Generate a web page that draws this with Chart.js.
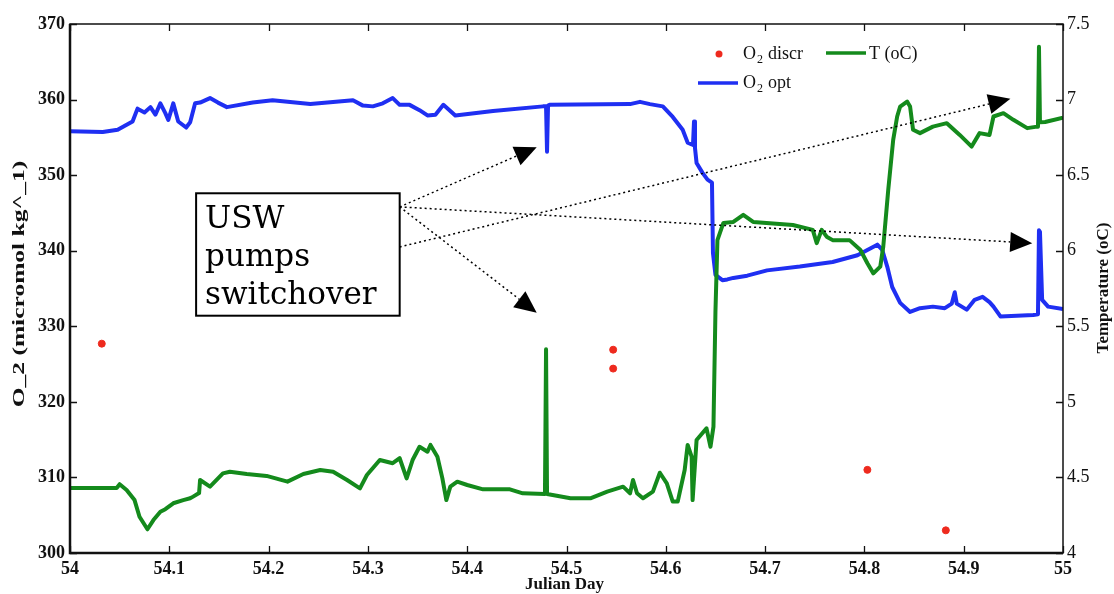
<!DOCTYPE html>
<html>
<head>
<meta charset="utf-8">
<script src="https://cdn.jsdelivr.net/npm/chart.js@4/dist/chart.umd.min.js"></script>
<style>
  html, body { margin: 0; padding: 0; background: #fff; }
  #chart { display: block; }
</style>
</head>
<body>
<canvas id="chart" width="1114" height="594"></canvas>
<script>
// Julian day / O2 optode (micromol kg-1)
const optDay = [54.000, 54.033, 54.048, 54.063, 54.068, 54.075, 54.081, 54.086, 54.091, 54.096, 54.099, 54.104,
  54.109, 54.117, 54.121, 54.126, 54.131, 54.141, 54.149, 54.158, 54.184, 54.204, 54.242, 54.285, 54.295, 54.305,
  54.315, 54.325, 54.332, 54.342, 54.352, 54.360, 54.368, 54.376, 54.383, 54.388, 54.426, 54.4763, 54.4794, 54.4804,
  54.4814, 54.483, 54.564, 54.574, 54.584, 54.597, 54.607, 54.617, 54.622, 54.6274, 54.6284, 54.6294, 54.631, 54.637,
  54.642, 54.6465, 54.6475, 54.650, 54.657, 54.662, 54.668, 54.682, 54.702, 54.735, 54.768, 54.793, 54.813, 54.818,
  54.823, 54.828, 54.836, 54.846, 54.856, 54.869, 54.881, 54.888, 54.891, 54.893, 54.903, 54.911, 54.919, 54.926,
  54.930, 54.937, 54.970, 54.9748, 54.9758, 54.9768, 54.979, 54.985, 55.000];
const optO2 = [355.8, 355.7, 356.0, 357.1, 358.8, 358.3, 359.0, 358.0, 359.5, 358.2, 357.3, 359.5,
  357.1, 356.3, 357.0, 359.5, 359.6, 360.2, 359.6, 359.0, 359.6, 359.9, 359.4, 359.9, 359.2, 359.1,
  359.5, 360.2, 359.3, 359.3, 358.6, 357.9, 358.0, 359.3, 358.5, 357.9, 358.5, 359.1, 359.1, 353.1,
  359.2, 359.3, 359.4, 359.7, 359.4, 359.1, 357.7, 356.0, 354.3, 354.0, 357.1, 353.6, 351.6, 350.3,
  349.4, 349.0, 339.7, 336.8, 336.1, 336.2, 336.4, 336.7, 337.4, 337.9, 338.5, 339.4, 340.8, 340.1,
  337.9, 335.2, 333.1, 331.9, 332.4, 332.6, 332.4, 333.0, 334.5, 333.0, 332.2, 333.5, 333.9, 333.2,
  332.6, 331.3, 331.5, 331.6, 342.7, 342.5, 333.5, 332.6, 332.3];

// Julian day / temperature (oC)
const tempDay = [54.000, 54.047, 54.050, 54.057, 54.065, 54.070, 54.078, 54.084, 54.091, 54.096, 54.104, 54.114,
  54.121, 54.124, 54.130, 54.131, 54.141, 54.154, 54.161, 54.178, 54.198, 54.219, 54.235, 54.252, 54.265,
  54.279, 54.292, 54.299, 54.312, 54.325, 54.332, 54.339, 54.345, 54.352, 54.360, 54.363, 54.370, 54.375,
  54.379, 54.383, 54.390, 54.400, 54.416, 54.443, 54.456, 54.4783, 54.4794, 54.4804, 54.504, 54.524, 54.541,
  54.557, 54.564, 54.567, 54.571, 54.577, 54.587, 54.594, 54.601, 54.607, 54.612, 54.619, 54.622, 54.626,
  54.627, 54.631, 54.641, 54.645, 54.648, 54.650, 54.652, 54.658, 54.668, 54.678, 54.688, 54.708, 54.728,
  54.748, 54.752, 54.757, 54.762, 54.768, 54.785, 54.796, 54.803, 54.809, 54.816, 54.819, 54.824, 54.829,
  54.833, 54.836, 54.843, 54.846, 54.849, 54.856, 54.869, 54.883, 54.896, 54.908, 54.916, 54.926, 54.930,
  54.940, 54.950, 54.964, 54.9738, 54.9748, 54.9758, 54.9768, 54.982, 55.000];
const tempC = [4.43, 4.43, 4.455, 4.417, 4.35, 4.24, 4.157, 4.218, 4.273, 4.29, 4.329, 4.35,
  4.362, 4.373, 4.397, 4.483, 4.439, 4.527, 4.538, 4.523, 4.51, 4.472, 4.523, 4.549, 4.538,
  4.483, 4.428, 4.516, 4.615, 4.594, 4.627, 4.494, 4.615, 4.703, 4.67, 4.715, 4.637, 4.494,
  4.35, 4.439, 4.472, 4.45, 4.421, 4.421, 4.395, 4.39, 5.348, 4.39, 4.362, 4.362, 4.406,
  4.439, 4.395, 4.483, 4.395, 4.362, 4.406, 4.531, 4.461, 4.34, 4.34, 4.549, 4.715, 4.637,
  4.35, 4.748, 4.825, 4.703, 4.836, 5.6, 6.07, 6.184, 6.19, 6.237, 6.19, 6.18, 6.17,
  6.138, 6.05, 6.138, 6.093, 6.07, 6.07, 6.005, 5.917, 5.85, 5.895, 6.027, 6.402, 6.733,
  6.888, 6.954, 6.987, 6.954, 6.8, 6.778, 6.821, 6.844, 6.766, 6.689, 6.778, 6.766, 6.888,
  6.91, 6.866, 6.811, 6.821, 6.82, 7.35, 6.85, 6.852, 6.88];

// discrete O2 samples
const discrDay = [54.032, 54.547, 54.547, 54.803, 54.882];
const discrO2 = [327.7, 326.9, 324.4, 311.0, 303.0];

// annotation arrows (data coords): start on the box edge -> tip
const arrowFrom = [[54.332, 345.8], [54.332, 345.8], [54.332, 345.8], [54.332, 340.5]];
const arrowTo = [[54.470, 353.7], [54.470, 331.8], [54.969, 341.0], [54.947, 360.1]];
const noteBox = [54.127, 347.6, 54.332, 331.4];
const noteLines = ['USW', 'pumps', 'switchover'];

const pairs = (xs, ys) => xs.map((x, i) => ({ x, y: ys[i] }));

const BLUE = '#1f2ff2';
const GREEN = '#148a1c';
const RED = '#ee2a1e';
const INK = '#111';

const inwardTicks = {
  id: 'inwardTicks',
  afterDraw(chart) {
    const { ctx, chartArea: a, scales } = chart;
    ctx.save();
    ctx.strokeStyle = INK;
    ctx.lineWidth = 1.3;
    ctx.beginPath();
    scales.x.ticks.forEach((t) => {
      const px = Math.round(scales.x.getPixelForValue(t.value)) + 0.5;
      ctx.moveTo(px, a.bottom); ctx.lineTo(px, a.bottom - 7);
      ctx.moveTo(px, a.top); ctx.lineTo(px, a.top + 7);
    });
    scales.y.ticks.forEach((t) => {
      const py = Math.round(scales.y.getPixelForValue(t.value)) + 0.5;
      ctx.moveTo(a.left, py); ctx.lineTo(a.left + 7, py);
    });
    scales.y1.ticks.forEach((t) => {
      const py = Math.round(scales.y1.getPixelForValue(t.value)) + 0.5;
      ctx.moveTo(a.right, py); ctx.lineTo(a.right - 7, py);
    });
    ctx.stroke();
    ctx.lineWidth = 1.5;
    ctx.strokeRect(a.left, a.top, a.right - a.left, a.bottom - a.top);
    ctx.lineWidth = 2.5;
    ctx.beginPath(); ctx.moveTo(a.left, a.top); ctx.lineTo(a.left, a.bottom); ctx.lineTo(a.right, a.bottom); ctx.stroke();
    ctx.restore();
  },
};

const axisTitles = {
  id: 'axisTitles',
  afterDraw(chart) {
    const { ctx, chartArea: a } = chart;
    ctx.save();
    ctx.fillStyle = INK;
    ctx.textAlign = 'center';
    ctx.textBaseline = 'middle';
    ctx.font = 'bold 17px "Liberation Serif"';
    ctx.fillText('Julian Day', (a.left + a.right) / 2 - 2, 585);

    ctx.save();
    ctx.translate(20, 284);
    ctx.rotate(-Math.PI / 2);
    ctx.scale(1.5, 1);
    ctx.fillText('O_2 (micromol kg^_1)', 0, 0);
    ctx.restore();

    ctx.save();
    ctx.translate(1104, 288);
    ctx.rotate(-Math.PI / 2);
    ctx.fillText('Temperature (oC)', 0, 0);
    ctx.restore();
    ctx.restore();
  },
};

const legendBox = {
  id: 'legendBox',
  afterDraw(chart) {
    const { ctx } = chart;
    const sub = (txt, x, y) => {
      ctx.font = '18px "Liberation Serif"';
      ctx.fillText('O', x, y);
      const w = ctx.measureText('O').width;
      ctx.font = '12px "Liberation Serif"';
      ctx.fillText('2', x + w + 1, y + 4);
      ctx.font = '18px "Liberation Serif"';
      ctx.fillText(txt, x + w + 12, y);
    };
    ctx.save();
    ctx.textBaseline = 'alphabetic';
    ctx.textAlign = 'left';
    ctx.fillStyle = RED;
    ctx.beginPath();
    ctx.arc(719, 54, 3.5, 0, Math.PI * 2);
    ctx.fill();
    ctx.fillStyle = INK;
    sub('discr', 743, 59);
    ctx.lineWidth = 3.5;
    ctx.strokeStyle = GREEN;
    ctx.beginPath(); ctx.moveTo(826, 53); ctx.lineTo(866, 53); ctx.stroke();
    ctx.font = '18px "Liberation Serif"';
    ctx.fillText('T (oC)', 869, 59);
    ctx.strokeStyle = BLUE;
    ctx.beginPath(); ctx.moveTo(698, 83); ctx.lineTo(738, 83); ctx.stroke();
    sub('opt', 743, 88);
    ctx.restore();
  },
};

const switchNote = {
  id: 'switchNote',
  afterDatasetsDraw(chart) {
    const { ctx, scales: { x, y } } = chart;
    ctx.save();
    // dotted arrows
    arrowFrom.forEach((from, i) => {
      const x0 = x.getPixelForValue(from[0]), y0 = y.getPixelForValue(from[1]);
      const x1 = x.getPixelForValue(arrowTo[i][0]), y1 = y.getPixelForValue(arrowTo[i][1]);
      const ang = Math.atan2(y1 - y0, x1 - x0);
      const len = 22, half = 10;
      const bx = x1 - len * Math.cos(ang), by = y1 - len * Math.sin(ang);
      ctx.setLineDash([2, 3]);
      ctx.lineWidth = 1.5;
      ctx.strokeStyle = '#000';
      ctx.beginPath(); ctx.moveTo(x0, y0); ctx.lineTo(bx, by); ctx.stroke();
      ctx.setLineDash([]);
      ctx.fillStyle = '#000';
      ctx.beginPath();
      ctx.moveTo(x1, y1);
      ctx.lineTo(bx + half * Math.sin(ang), by - half * Math.cos(ang));
      ctx.lineTo(bx - half * Math.sin(ang), by + half * Math.cos(ang));
      ctx.closePath();
      ctx.fill();
    });
    // text box
    const bl = x.getPixelForValue(noteBox[0]), bt = y.getPixelForValue(noteBox[1]);
    const br = x.getPixelForValue(noteBox[2]), bb = y.getPixelForValue(noteBox[3]);
    ctx.fillStyle = '#fff';
    ctx.fillRect(bl, bt, br - bl, bb - bt);
    ctx.lineWidth = 2;
    ctx.strokeStyle = '#000';
    ctx.strokeRect(bl, bt, br - bl, bb - bt);
    ctx.fillStyle = '#000';
    ctx.font = '31px "DejaVu Serif"';
    ctx.textAlign = 'left';
    ctx.textBaseline = 'alphabetic';
    noteLines.forEach((line, i) => ctx.fillText(line, bl + 9, bt + 35 + i * 38));
    ctx.restore();
  },
};

const tickFont = { family: 'Liberation Serif', size: 18, weight: 'bold' };

new Chart(document.getElementById('chart'), {
  type: 'line',
  data: {
    datasets: [
      {
        label: 'O2 discr',
        type: 'scatter',
        data: pairs(discrDay, discrO2),
        yAxisID: 'y',
        backgroundColor: RED,
        borderColor: RED,
        pointRadius: 3.5,
        order: 0,
      },
      {
        label: 'T (oC)',
        data: pairs(tempDay, tempC),
        yAxisID: 'y1',
        borderColor: GREEN,
        borderWidth: 4,
        pointRadius: 0,
        tension: 0,
        borderJoinStyle: 'round',
        order: 1,
      },
      {
        label: 'O2 opt',
        data: pairs(optDay, optO2),
        yAxisID: 'y',
        borderColor: BLUE,
        borderWidth: 4,
        pointRadius: 0,
        tension: 0,
        borderJoinStyle: 'round',
        order: 2,
      },
    ],
  },
  options: {
    responsive: false,
    animation: false,
    devicePixelRatio: 1,
    layout: { padding: { top: 24, left: 0, right: 0, bottom: 0 } },
    plugins: { legend: { display: false }, tooltip: { enabled: false } },
    scales: {
      x: {
        type: 'linear',
        min: 54,
        max: 55,
        afterFit: (s) => { s.height = 41; },
        grid: { display: false, drawTicks: false },
        border: { display: false },
        ticks: {
          stepSize: 0.1,
          autoSkip: false,
          maxRotation: 0,
          padding: 6,
          color: INK,
          font: tickFont,
          callback: (v) => String(Math.round(v * 10) / 10),
        },
      },
      y: {
        position: 'left',
        min: 300,
        max: 370,
        afterFit: (s) => { s.width = 70; },
        grid: { display: false, drawTicks: false },
        border: { display: false },
        ticks: { stepSize: 10, padding: 5, color: INK, font: tickFont },
      },
      y1: {
        position: 'right',
        min: 4,
        max: 7.5,
        afterFit: (s) => { s.width = 51; },
        grid: { display: false, drawTicks: false },
        border: { display: false },
        ticks: {
          stepSize: 0.5,
          padding: 4,
          color: INK,
          font: { family: 'Liberation Serif', size: 18 },
          callback: (v) => String(Math.round(v * 10) / 10),
        },
      },
    },
  },
  plugins: [switchNote, inwardTicks, axisTitles, legendBox],
});
</script>
</body>
</html>
